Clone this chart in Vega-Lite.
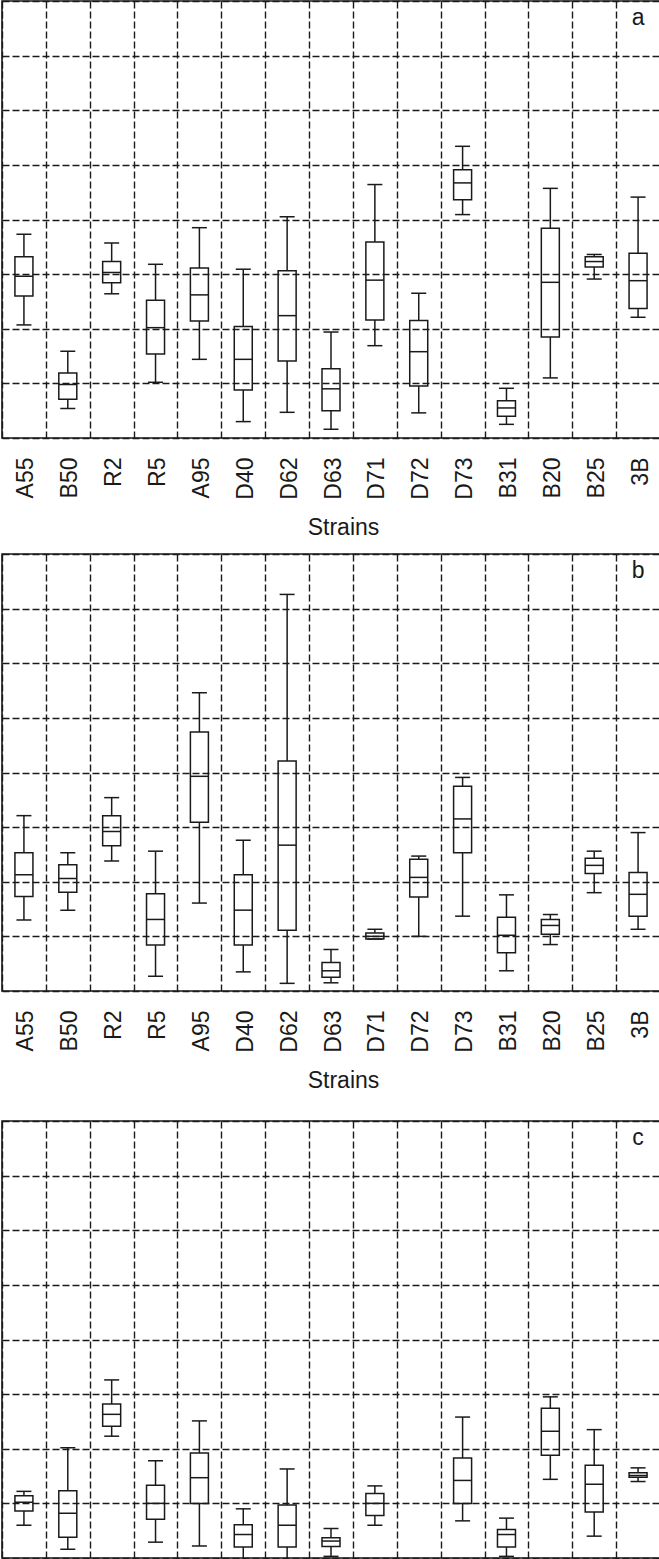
{
  "$schema": "https://vega.github.io/schema/vega-lite/v6.json",
  "background": "white",
  "padding": {"left": -10, "top": 0, "right": 0, "bottom": 0},
  "spacing": 13,
  "config": {
    "font": "Liberation Sans",
    "view": {"stroke": "#1a1a1a", "strokeWidth": 1.6},
    "axisX": {
      "grid": true,
      "tickBand": "extent",
      "gridDash": [7, 3],
      "gridColor": "#1a1a1a",
      "gridWidth": 1.4,
      "gridOpacity": 1,
      "domain": false,
      "ticks": false,
      "tickSize": 0,
      "labelAngle": -90,
      "labelPadding": 19,
      "labelOffset": 2,
      "labelFontSize": 23,
      "labelColor": "#1a1a1a",
      "titleFontSize": 23,
      "titleFontWeight": "normal",
      "titlePadding": 17,
      "titleColor": "#1a1a1a"
    },
    "axisY": {
      "grid": true,
      "gridDash": [7, 3],
      "gridColor": "#1a1a1a",
      "gridWidth": 1.4,
      "gridOpacity": 1,
      "labels": false,
      "ticks": false,
      "tickSize": 0,
      "labelPadding": 0,
      "titlePadding": 0,
      "domain": false,
      "tickCount": 8,
      "minExtent": 0,
      "maxExtent": 0,
      "offset": 0
    }
  },
  "datasets": {
    "a": [
      {"strain": "A55", "lo": 2.07, "q1": 2.60, "med": 2.96, "q3": 3.32, "hi": 3.73},
      {"strain": "B50", "lo": 0.54, "q1": 0.71, "med": 0.98, "q3": 1.19, "hi": 1.59},
      {"strain": "R2", "lo": 2.64, "q1": 2.84, "med": 3.03, "q3": 3.23, "hi": 3.57},
      {"strain": "R5", "lo": 1.02, "q1": 1.54, "med": 2.02, "q3": 2.52, "hi": 3.18},
      {"strain": "A95", "lo": 1.44, "q1": 2.14, "med": 2.62, "q3": 3.11, "hi": 3.85},
      {"strain": "D40", "lo": 0.30, "q1": 0.88, "med": 1.44, "q3": 2.04, "hi": 3.09},
      {"strain": "D62", "lo": 0.47, "q1": 1.41, "med": 2.24, "q3": 3.06, "hi": 4.05},
      {"strain": "D63", "lo": 0.16, "q1": 0.50, "med": 0.90, "q3": 1.27, "hi": 1.94},
      {"strain": "D71", "lo": 1.69, "q1": 2.16, "med": 2.89, "q3": 3.59, "hi": 4.64},
      {"strain": "D72", "lo": 0.46, "q1": 0.95, "med": 1.58, "q3": 2.15, "hi": 2.65},
      {"strain": "D73", "lo": 4.09, "q1": 4.36, "med": 4.67, "q3": 4.91, "hi": 5.34},
      {"strain": "B31", "lo": 0.25, "q1": 0.40, "med": 0.55, "q3": 0.68, "hi": 0.91},
      {"strain": "B20", "lo": 1.10, "q1": 1.85, "med": 2.85, "q3": 3.84, "hi": 4.57},
      {"strain": "B25", "lo": 2.91, "q1": 3.13, "med": 3.23, "q3": 3.32, "hi": 3.36},
      {"strain": "3B", "lo": 2.21, "q1": 2.37, "med": 2.88, "q3": 3.38, "hi": 4.41}
    ],
    "b": [
      {"strain": "A55", "lo": 1.30, "q1": 1.73, "med": 2.13, "q3": 2.53, "hi": 3.21},
      {"strain": "B50", "lo": 1.48, "q1": 1.81, "med": 2.06, "q3": 2.31, "hi": 2.53},
      {"strain": "R2", "lo": 2.38, "q1": 2.66, "med": 2.92, "q3": 3.21, "hi": 3.54},
      {"strain": "R5", "lo": 0.27, "q1": 0.84, "med": 1.31, "q3": 1.78, "hi": 2.56},
      {"strain": "A95", "lo": 1.61, "q1": 3.09, "med": 3.93, "q3": 4.74, "hi": 5.46},
      {"strain": "D40", "lo": 0.35, "q1": 0.84, "med": 1.48, "q3": 2.13, "hi": 2.76},
      {"strain": "D62", "lo": 0.14, "q1": 1.11, "med": 2.67, "q3": 4.21, "hi": 7.26},
      {"strain": "D63", "lo": 0.15, "q1": 0.25, "med": 0.37, "q3": 0.52, "hi": 0.76},
      {"strain": "D71", "lo": 0.95, "q1": 0.95, "med": 1.00, "q3": 1.06, "hi": 1.13},
      {"strain": "D72", "lo": 1.00, "q1": 1.72, "med": 2.08, "q3": 2.41, "hi": 2.47},
      {"strain": "D73", "lo": 1.37, "q1": 2.53, "med": 3.15, "q3": 3.75, "hi": 3.91},
      {"strain": "B31", "lo": 0.37, "q1": 0.70, "med": 1.02, "q3": 1.35, "hi": 1.76},
      {"strain": "B20", "lo": 0.85, "q1": 1.04, "med": 1.20, "q3": 1.31, "hi": 1.40},
      {"strain": "B25", "lo": 1.80, "q1": 2.15, "med": 2.30, "q3": 2.43, "hi": 2.56},
      {"strain": "3B", "lo": 1.13, "q1": 1.37, "med": 1.77, "q3": 2.17, "hi": 2.90}
    ],
    "c": [
      {"strain": "A55", "lo": 0.60, "q1": 0.86, "med": 1.02, "q3": 1.14, "hi": 1.22},
      {"strain": "B50", "lo": 0.16, "q1": 0.38, "med": 0.82, "q3": 1.23, "hi": 2.02},
      {"strain": "R2", "lo": 2.23, "q1": 2.41, "med": 2.63, "q3": 2.82, "hi": 3.26},
      {"strain": "R5", "lo": 0.29, "q1": 0.71, "med": 1.00, "q3": 1.33, "hi": 1.78},
      {"strain": "A95", "lo": 0.22, "q1": 1.00, "med": 1.47, "q3": 1.92, "hi": 2.51},
      {"strain": "D40", "lo": -0.10, "q1": 0.20, "med": 0.43, "q3": 0.61, "hi": 0.90},
      {"strain": "D62", "lo": -0.10, "q1": 0.20, "med": 0.60, "q3": 0.97, "hi": 1.63},
      {"strain": "D63", "lo": 0.03, "q1": 0.21, "med": 0.31, "q3": 0.37, "hi": 0.54},
      {"strain": "D71", "lo": 0.60, "q1": 0.78, "med": 1.00, "q3": 1.18, "hi": 1.32},
      {"strain": "D73", "lo": 0.68, "q1": 1.00, "med": 1.42, "q3": 1.83, "hi": 2.58},
      {"strain": "B31", "lo": 0.03, "q1": 0.20, "med": 0.43, "q3": 0.52, "hi": 0.73},
      {"strain": "B20", "lo": 1.44, "q1": 1.88, "med": 2.32, "q3": 2.74, "hi": 2.95},
      {"strain": "B25", "lo": 0.40, "q1": 0.84, "med": 1.35, "q3": 1.70, "hi": 2.35},
      {"strain": "3B", "lo": 1.40, "q1": 1.48, "med": 1.51, "q3": 1.56, "hi": 1.65}
    ]
  },
  "vconcat": [
    {
      "width": 658,
      "height": 437,
      "data": {"name": "a"},
      "encoding": {
        "x": {
          "field": "strain",
          "type": "nominal",
          "title": "Strains",
          "scale": {"type": "band", "domain": ["A55", "B50", "R2", "R5", "A95", "D40", "D62", "D63", "D71", "D72", "D73", "B31", "B20", "B25", "3B"], "paddingInner": 0, "paddingOuter": 0},
          "axis": {"titleX": 341}
        }
      },
      "layer": [
        {
          "mark": {"type": "rule", "color": "#1a1a1a", "strokeWidth": 1.5},
          "encoding": {
            "y": {"field": "lo", "type": "quantitative", "title": null, "scale": {"domain": [0, 8], "nice": false}},
            "y2": {"field": "q1"}
          }
        },
        {
          "mark": {"type": "rule", "color": "#1a1a1a", "strokeWidth": 1.5},
          "encoding": {
            "y": {"field": "q3", "type": "quantitative", "title": null, "scale": {"domain": [0, 8], "nice": false}},
            "y2": {"field": "hi"}
          }
        },
        {
          "mark": {"type": "bar", "filled": false, "size": 18, "stroke": "#1a1a1a", "strokeWidth": 1.5},
          "encoding": {
            "y": {"field": "q1", "type": "quantitative", "title": null, "scale": {"domain": [0, 8], "nice": false}},
            "y2": {"field": "q3"}
          }
        },
        {
          "mark": {"type": "tick", "size": 18, "thickness": 1.5, "color": "#1a1a1a", "opacity": 1},
          "encoding": {
            "y": {"field": "med", "type": "quantitative", "title": null, "scale": {"domain": [0, 8], "nice": false}}
          }
        },
        {
          "mark": {"type": "tick", "size": 15, "thickness": 1.5, "color": "#1a1a1a", "opacity": 1},
          "encoding": {
            "y": {"field": "lo", "type": "quantitative", "title": null, "scale": {"domain": [0, 8], "nice": false}}
          }
        },
        {
          "mark": {"type": "tick", "size": 15, "thickness": 1.5, "color": "#1a1a1a", "opacity": 1},
          "encoding": {
            "y": {"field": "hi", "type": "quantitative", "title": null, "scale": {"domain": [0, 8], "nice": false}}
          }
        },
        {
          "data": {"values": [{"strain": "3B", "pos": 7.56, "label": "a"}]},
          "mark": {"type": "text", "fontSize": 23, "color": "#1a1a1a", "baseline": "alphabetic", "align": "center"},
          "encoding": {
            "y": {"field": "pos", "type": "quantitative", "title": null, "scale": {"domain": [0, 8], "nice": false}},
            "text": {"field": "label"}
          }
        }
      ]
    },
    {
      "width": 658,
      "height": 437,
      "data": {"name": "b"},
      "encoding": {
        "x": {
          "field": "strain",
          "type": "nominal",
          "title": "Strains",
          "scale": {"type": "band", "domain": ["A55", "B50", "R2", "R5", "A95", "D40", "D62", "D63", "D71", "D72", "D73", "B31", "B20", "B25", "3B"], "paddingInner": 0, "paddingOuter": 0},
          "axis": {"titleX": 341}
        }
      },
      "layer": [
        {
          "mark": {"type": "rule", "color": "#1a1a1a", "strokeWidth": 1.5},
          "encoding": {
            "y": {"field": "lo", "type": "quantitative", "title": null, "scale": {"domain": [0, 8], "nice": false}},
            "y2": {"field": "q1"}
          }
        },
        {
          "mark": {"type": "rule", "color": "#1a1a1a", "strokeWidth": 1.5},
          "encoding": {
            "y": {"field": "q3", "type": "quantitative", "title": null, "scale": {"domain": [0, 8], "nice": false}},
            "y2": {"field": "hi"}
          }
        },
        {
          "mark": {"type": "bar", "filled": false, "size": 18, "stroke": "#1a1a1a", "strokeWidth": 1.5},
          "encoding": {
            "y": {"field": "q1", "type": "quantitative", "title": null, "scale": {"domain": [0, 8], "nice": false}},
            "y2": {"field": "q3"}
          }
        },
        {
          "mark": {"type": "tick", "size": 18, "thickness": 1.5, "color": "#1a1a1a", "opacity": 1},
          "encoding": {
            "y": {"field": "med", "type": "quantitative", "title": null, "scale": {"domain": [0, 8], "nice": false}}
          }
        },
        {
          "mark": {"type": "tick", "size": 15, "thickness": 1.5, "color": "#1a1a1a", "opacity": 1},
          "encoding": {
            "y": {"field": "lo", "type": "quantitative", "title": null, "scale": {"domain": [0, 8], "nice": false}}
          }
        },
        {
          "mark": {"type": "tick", "size": 15, "thickness": 1.5, "color": "#1a1a1a", "opacity": 1},
          "encoding": {
            "y": {"field": "hi", "type": "quantitative", "title": null, "scale": {"domain": [0, 8], "nice": false}}
          }
        },
        {
          "data": {"values": [{"strain": "3B", "pos": 7.56, "label": "b"}]},
          "mark": {"type": "text", "fontSize": 23, "color": "#1a1a1a", "baseline": "alphabetic", "align": "center"},
          "encoding": {
            "y": {"field": "pos", "type": "quantitative", "title": null, "scale": {"domain": [0, 8], "nice": false}},
            "text": {"field": "label"}
          }
        }
      ]
    },
    {
      "width": 658,
      "height": 437,
      "title": {"text": " ", "fontSize": 2, "offset": 12},
      "data": {"name": "c"},
      "encoding": {
        "x": {
          "field": "strain",
          "type": "nominal",
          "title": "Strains",
          "scale": {"type": "band", "domain": ["A55", "B50", "R2", "R5", "A95", "D40", "D62", "D63", "D71", "D72", "D73", "B31", "B20", "B25", "3B"], "paddingInner": 0, "paddingOuter": 0},
          "axis": {"titleX": 341}
        }
      },
      "layer": [
        {
          "mark": {"type": "rule", "color": "#1a1a1a", "strokeWidth": 1.5},
          "encoding": {
            "y": {"field": "lo", "type": "quantitative", "title": null, "scale": {"domain": [0, 8], "nice": false}},
            "y2": {"field": "q1"}
          }
        },
        {
          "mark": {"type": "rule", "color": "#1a1a1a", "strokeWidth": 1.5},
          "encoding": {
            "y": {"field": "q3", "type": "quantitative", "title": null, "scale": {"domain": [0, 8], "nice": false}},
            "y2": {"field": "hi"}
          }
        },
        {
          "mark": {"type": "bar", "filled": false, "size": 18, "stroke": "#1a1a1a", "strokeWidth": 1.5},
          "encoding": {
            "y": {"field": "q1", "type": "quantitative", "title": null, "scale": {"domain": [0, 8], "nice": false}},
            "y2": {"field": "q3"}
          }
        },
        {
          "mark": {"type": "tick", "size": 18, "thickness": 1.5, "color": "#1a1a1a", "opacity": 1},
          "encoding": {
            "y": {"field": "med", "type": "quantitative", "title": null, "scale": {"domain": [0, 8], "nice": false}}
          }
        },
        {
          "mark": {"type": "tick", "size": 15, "thickness": 1.5, "color": "#1a1a1a", "opacity": 1},
          "encoding": {
            "y": {"field": "lo", "type": "quantitative", "title": null, "scale": {"domain": [0, 8], "nice": false}}
          }
        },
        {
          "mark": {"type": "tick", "size": 15, "thickness": 1.5, "color": "#1a1a1a", "opacity": 1},
          "encoding": {
            "y": {"field": "hi", "type": "quantitative", "title": null, "scale": {"domain": [0, 8], "nice": false}}
          }
        },
        {
          "data": {"values": [{"strain": "3B", "pos": 7.56, "label": "c"}]},
          "mark": {"type": "text", "fontSize": 23, "color": "#1a1a1a", "baseline": "alphabetic", "align": "center"},
          "encoding": {
            "y": {"field": "pos", "type": "quantitative", "title": null, "scale": {"domain": [0, 8], "nice": false}},
            "text": {"field": "label"}
          }
        }
      ]
    }
  ]
}
